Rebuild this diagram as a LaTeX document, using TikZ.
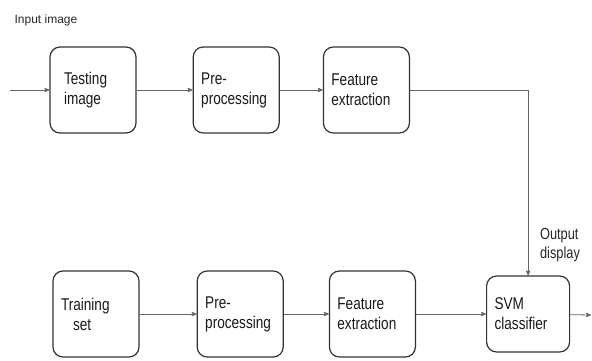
\documentclass[tikz,border=0pt]{standalone}
\usepackage{fontspec}
\setmainfont{Liberation Sans}
\newfontfamily\blockfont[FakeStretch=0.8]{Liberation Sans}
\usepackage{xcolor}
\usepackage{tikz}
\usetikzlibrary{positioning,shapes,arrows}

\begin{document}
\begin{tikzpicture}[x=1pt,y=-1pt,>=stealth',
    block/.style={draw=black!80,line width=1.2pt,rounded corners=10pt,
      minimum width=86pt,minimum height=86pt,text width=70pt,align=left,
      inner sep=8pt,font=\blockfont\fontsize{17}{20}\selectfont,text=black!90},
    link/.style={->,draw=black!60,line width=0.8pt}]
          \useasboundingbox (0,0) rectangle (592,360);
          % testing path
          \node [block] (test) at (93,90) {\hspace*{6pt}Testing\\\hspace*{6pt}image};
          \node [block] (pre1) [right=56pt of test] {Pre-\\processing};
          \node [block] (feat1) [right=43pt of pre1] {Feature\\extraction};
          % training path
          \node [block] (train) at (96,314) {Training\\\hspace*{12pt}set};
          \node [block] (pre2) [right=57pt of train] {Pre-\\processing};
          \node [block] (feat2) [right=45pt of pre2] {Feature\\extraction};
          \node [block,minimum width=83pt,minimum height=76pt,text width=67pt] (svm) [right=70pt of feat2] {SVM\\classifier};
          % labels
          \node [font=\fontsize{12}{14}\selectfont,text=black!85] (inlbl) at (46,20) {Input image};
          \node [font=\blockfont\fontsize{16}{19}\selectfont,text=black!85,align=left] (outlbl) at (560,245) {Output\\display};
          \coordinate (in) at (10,90);
          \coordinate (out) at (591,315);
          % connectors
          \draw [link] (in) -- (test);
          \draw [link] (test) -- (pre1);
          \draw [link] (pre1) -- (feat1);
          \draw [link] (feat1.east) -| (svm.north);
          \draw [link] (train) -- (pre2);
          \draw [link] (pre2) -- (feat2);
          \draw [link] (feat2) -- (svm);
          \draw [link] (svm) -- (out);
\end{tikzpicture}
\end{document}
